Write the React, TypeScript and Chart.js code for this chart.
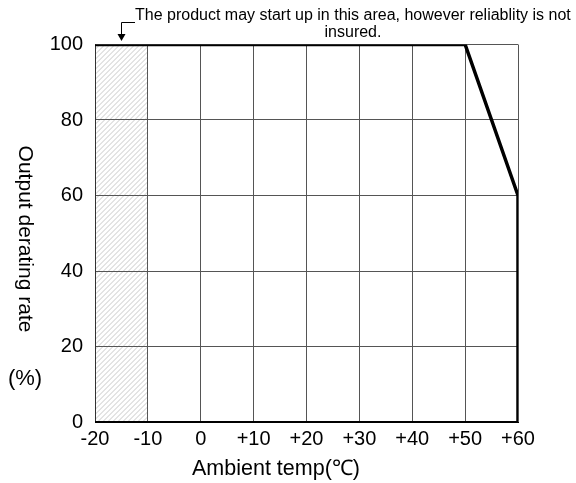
import React, { useEffect, useRef } from "react";
import { Chart, registerables } from "chart.js";

Chart.register(...registerables);

const temps = [-20, 50, 60, 60];
const rates = [100, 100, 60, 0];
const hatchRange = [-20, -10];
const noteLines = [
  "The product may start up in this area, however reliablity is not",
  "insured.",
];
const xTitle = "Ambient temp(\u2103)";
const yTitle = "Output derating rate";
const yUnit = "(%)";

const FONT = "'Liberation Sans', Arial, sans-serif";

const overlay = {
  id: "overlay",
  beforeDraw(chart: any) {
    const { ctx, chartArea, scales } = chart;
    const x0 = scales.x.getPixelForValue(hatchRange[0]);
    const x1 = scales.x.getPixelForValue(hatchRange[1]);
    const top = chartArea.top;
    const bottom = chartArea.bottom;
    ctx.save();
    ctx.beginPath();
    ctx.rect(x0, top, x1 - x0, bottom - top);
    ctx.clip();
    ctx.strokeStyle = "#c8c8c8";
    ctx.lineWidth = 1;
    const h = bottom - top;
    for (let s = x0 - h; s < x1 + 10; s += 5) {
      ctx.beginPath();
      ctx.moveTo(s, bottom);
      ctx.lineTo(s + h, top);
      ctx.stroke();
    }
    ctx.restore();
  },
  afterDraw(chart: any) {
    const { ctx, chartArea } = chart;
    ctx.save();
    ctx.fillStyle = "#000";
    ctx.strokeStyle = "#000";
    // note text
    ctx.font = `16px ${FONT}`;
    ctx.textBaseline = "alphabetic";
    ctx.textAlign = "left";
    ctx.fillText(noteLines[0], 135, 20);
    ctx.textAlign = "center";
    ctx.fillText(noteLines[1], 353, 37);
    // bracket arrow
    ctx.lineWidth = 1;
    ctx.beginPath();
    ctx.moveTo(135, 22.5);
    ctx.lineTo(121.5, 22.5);
    ctx.lineTo(121.5, 35);
    ctx.stroke();
    ctx.beginPath();
    ctx.moveTo(117.5, 34);
    ctx.lineTo(125.5, 34);
    ctx.lineTo(121.5, 41);
    ctx.closePath();
    ctx.fill();
    // y title rotated
    ctx.font = `21px ${FONT}`;
    ctx.save();
    ctx.translate(25, 239);
    ctx.rotate(Math.PI / 2);
    ctx.textAlign = "center";
    ctx.textBaseline = "middle";
    ctx.fillText(yTitle, 0, 0);
    ctx.restore();
    ctx.font = `22px ${FONT}`;
    ctx.textAlign = "center";
    ctx.textBaseline = "middle";
    ctx.fillText(yUnit, 25, 379);
    // x title
    ctx.font = `21.5px ${FONT}`;
    ctx.fillText(xTitle, 276, 469);
    // bottom axis line
    ctx.lineWidth = 2;
    ctx.beginPath();
    ctx.moveTo(chartArea.left, chartArea.bottom);
    ctx.lineTo(chartArea.right, chartArea.bottom);
    ctx.stroke();
    ctx.restore();
  },
};

export default function App() {
  const ref = useRef<HTMLCanvasElement>(null);
  useEffect(() => {
    document.body.style.margin = "0";
    const chart = new Chart(ref.current!, {
      type: "line",
      data: {
        datasets: [
          {
            data: temps.map((t, i) => ({ x: t, y: rates[i] })),
            borderColor: "#000",
            borderWidth: 3.5,
            pointRadius: 0,
            fill: false,
            tension: 0,
          },
        ],
      },
      options: {
        animation: false,
        responsive: false,
        layout: { padding: { top: 44.5, right: 58, left: 0, bottom: 0 } },
        plugins: { legend: { display: false }, tooltip: { enabled: false } },
        scales: {
          x: {
            type: "linear",
            min: -20,
            max: 60,
            ticks: {
              stepSize: 10,
              color: "#000",
              font: { family: FONT, size: 20 },
              padding: 5,
              callback: (v: any) => (v > 0 ? "+" + v : String(v)),
            },
            grid: { color: "#555", lineWidth: 1, drawTicks: false },
            border: { display: true, color: "#000", width: 1 },
            title: { display: false },
            afterFit: (s: any) => {
              s.height = 61;
            },
          },
          y: {
            min: 0,
            max: 100,
            ticks: {
              stepSize: 20,
              color: "#000",
              font: { family: FONT, size: 20 },
              padding: 12,
            },
            grid: { color: "#555", lineWidth: 1, drawTicks: false },
            border: { display: true, color: "#333", width: 1 },
            afterFit: (s: any) => {
              s.width = 95;
            },
          },
        },
      },
      plugins: [overlay],
    });
    return () => chart.destroy();
  }, []);
  return (
    <div style={{ width: 576, height: 483 }}>
      <canvas ref={ref} width={576} height={483} style={{ display: "block" }} />
    </div>
  );
}
